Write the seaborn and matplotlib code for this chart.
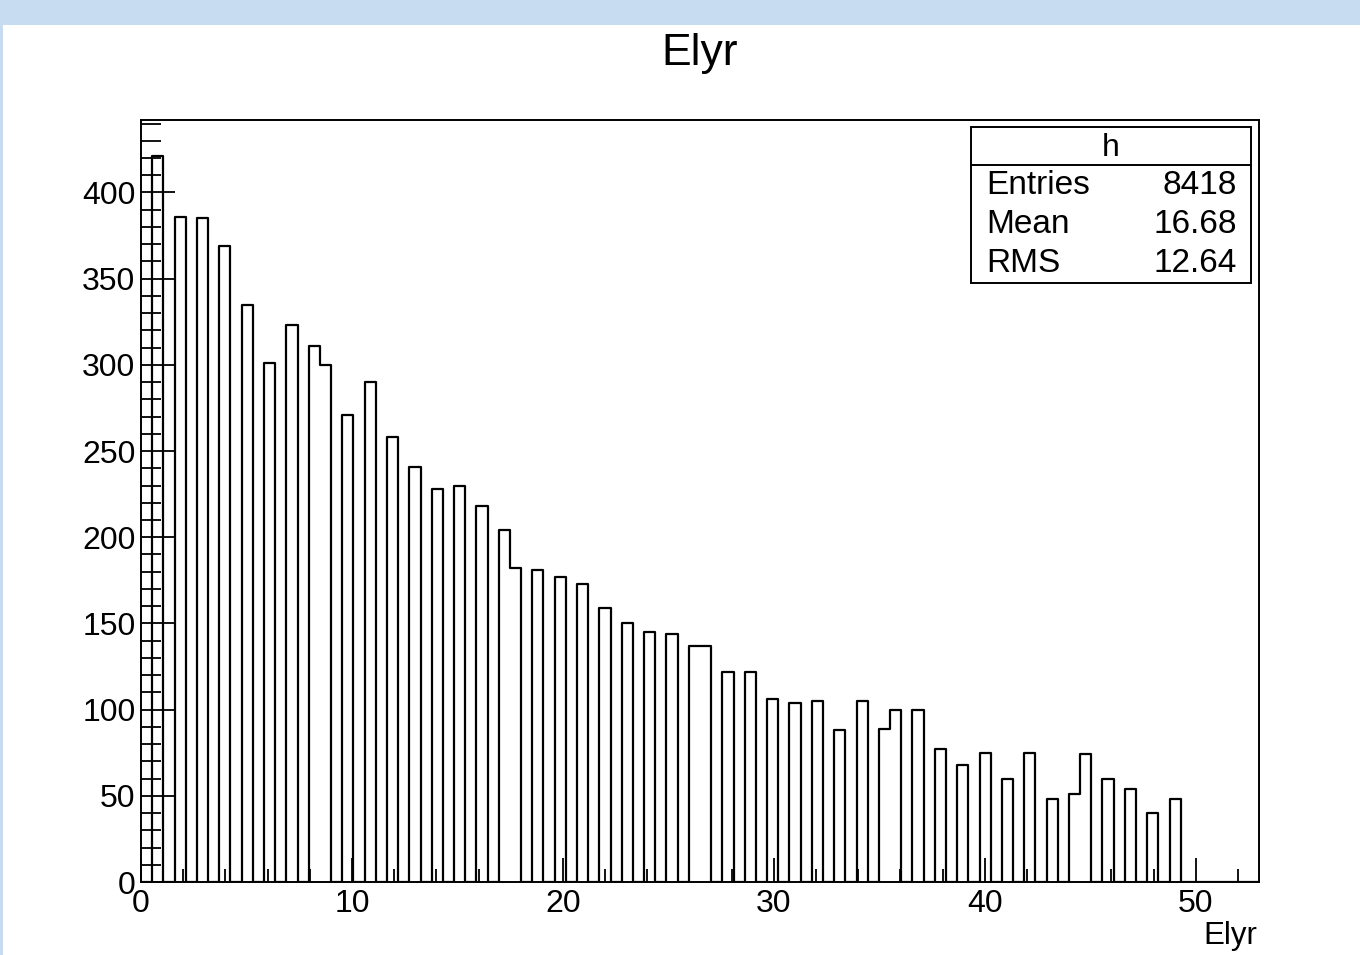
import matplotlib
matplotlib.use("Agg")
import matplotlib.pyplot as plt
from matplotlib.patches import Rectangle
from matplotlib.lines import Line2D
from matplotlib.ticker import MultipleLocator
import seaborn as sns
import pandas as pd

# ---- data ----
values = list(range(1, 50))
counts = [421, 386, 385, 369, 335, 301, 323, 311, 300, 271,
          290, 258, 241, 228, 230, 218, 204, 182, 181, 177,
          173, 159, 150, 145, 144, 137, 137, 122, 122, 106,
          104, 105, 88, 105, 89, 100, 100, 77, 68, 75,
          60, 75, 48, 51, 74, 60, 54, 40, 48]
n_bins = 100
x_range = (0, 53)
title = "Elyr"
x_label = "Elyr"
stats_name = "h"
stats_labels = ["Entries", "Mean", "RMS"]
stats_values = ["8418", "16.68", "12.64"]

sns.set_style("ticks")
plt.rcParams['font.family'] = ['Liberation Sans', 'DejaVu Sans']
plt.rcParams['text.color'] = 'black'

W, H = 1360, 955
fig = plt.figure(figsize=(W / 100, H / 100), dpi=100)
fig.patch.set_facecolor("white")

def fx(px):
    return px / W

def fy(py):
    return 1 - py / H

# screenshot border (light blue band on top, thin strip at left)
fig.patches.append(Rectangle((0, fy(25)), 1, 25 / H, transform=fig.transFigure,
                             facecolor="#c8dcf1", edgecolor="none", zorder=0))
fig.patches.append(Rectangle((0, 0), 3 / W, 1, transform=fig.transFigure,
                             facecolor="#c8dcf1", edgecolor="none", zorder=0))

ax = fig.add_axes([fx(141), fy(882), (1259 - 141) / W, (882 - 120) / H])
ax.set_facecolor("white")

df = pd.DataFrame({"Elyr": values, "n": counts})
sns.histplot(data=df, x="Elyr", weights="n", bins=n_bins, binrange=x_range,
             element="step", fill=False, color="black", linewidth=1.6, ax=ax)

ax.set_xlim(*x_range)
ax.set_ylim(0, 1.05 * max(counts))
ax.set_xlabel("")
ax.set_ylabel("")

ax.xaxis.set_major_locator(MultipleLocator(10))
ax.xaxis.set_minor_locator(MultipleLocator(2))
ax.yaxis.set_major_locator(MultipleLocator(50))
ax.yaxis.set_minor_locator(MultipleLocator(10))
ax.tick_params(which='both', direction='in', top=False, right=False, colors='black')
ax.tick_params(axis='x', which='major', length=17.3, width=1.3, labelsize=23, pad=5)
ax.tick_params(axis='x', which='minor', length=9.4, width=1.3)
ax.tick_params(axis='y', which='major', length=24.5, width=1.3, labelsize=23, pad=4)
ax.tick_params(axis='y', which='minor', length=14.4, width=1.3)
for s in ax.spines.values():
    s.set_visible(True)
    s.set_color("black")
    s.set_linewidth(1.4)

# title and axis label
fig.text(fx(700), fy(53), title, ha="center", va="center", fontsize=32)
fig.text(fx(1257), fy(936), x_label, ha="right", va="center", fontsize=22.5)

# stats box
bx0, bx1, by0, by1 = 971, 1251, 127, 283
fig.patches.append(Rectangle((fx(bx0), fy(by1)), (bx1 - bx0) / W, (by1 - by0) / H,
                             transform=fig.transFigure, facecolor="white",
                             edgecolor="black", linewidth=1.4, zorder=5))
fig.lines.append(Line2D([fx(bx0), fx(bx1)], [fy(165), fy(165)], transform=fig.transFigure,
                        color="black", linewidth=1.4, zorder=6))
fig.text(fx((bx0 + bx1) / 2), fy(148), stats_name, ha="center", va="center",
         fontsize=23, zorder=7)
for i, (lab, val) in enumerate(zip(stats_labels, stats_values)):
    yy = fy(186 + 38.5 * i)
    fig.text(fx(986), yy, lab, ha="left", va="center", fontsize=24, zorder=7)
    fig.text(fx(1237), yy, val, ha="right", va="center", fontsize=24, zorder=7)

fig.savefig("out.png", dpi=100)
